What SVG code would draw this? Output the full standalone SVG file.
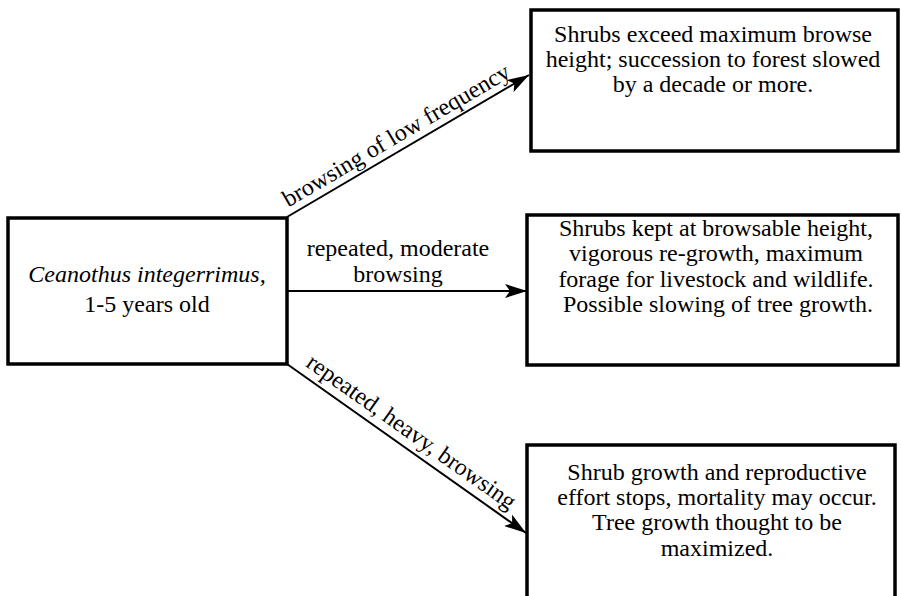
<svg xmlns="http://www.w3.org/2000/svg" width="901" height="596" viewBox="0 0 901 596">
<style>
.box{fill:#fff;stroke:#000;stroke-width:3.5}
.t{font-family:"Liberation Serif","Times New Roman",serif;font-size:24px;fill:#000;text-anchor:middle}
.i{font-style:italic}
.c{stroke:#000;stroke-width:2;fill:none}
</style>
<defs>
<marker id="ah" viewBox="0 0 22 14" refX="22" refY="7" markerWidth="22" markerHeight="14" markerUnits="userSpaceOnUse" orient="auto">
<path d="M0,0 L22,7 L0,14 L5,7 Z" fill="#000"/>
</marker>
</defs>
<rect width="901" height="596" fill="#fff"/>
<g id="connectors">
<line class="c" x1="287" y1="217" x2="529" y2="75" marker-end="url(#ah)"/>
<text class="t" transform="translate(400,142) rotate(-30.4)">browsing of low frequency</text>
<line class="c" x1="288" y1="291" x2="527" y2="291" marker-end="url(#ah)"/>
<text class="t" x="398" y="256">repeated, moderate</text>
<text class="t" x="398" y="282">browsing</text>
<line class="c" x1="287" y1="364" x2="526" y2="533" marker-end="url(#ah)"/>
<text class="t" transform="translate(407,438) rotate(35.3)">repeated, heavy, browsing</text>
</g>
<g id="start">
<rect class="box" x="8" y="218" width="279" height="146"/>
<text class="t i" x="147" y="282">Ceanothus integerrimus,</text>
<text class="t" x="147" y="312">1-5 years old</text>
</g>
<g id="low">
<rect class="box" x="531" y="10" width="367" height="141"/>
<text class="t" x="713" y="42">Shrubs exceed maximum browse</text>
<text class="t" x="713" y="67">height; succession to forest slowed</text>
<text class="t" x="713" y="92">by a decade or more.</text>
</g>
<g id="moderate">
<rect class="box" x="527" y="215" width="371" height="150"/>
<text class="t" x="716" y="236">Shrubs kept at browsable height,</text>
<text class="t" x="716" y="261">vigorous re-growth, maximum</text>
<text class="t" x="716" y="287">forage for livestock and wildlife.</text>
<text class="t" x="718" y="312">Possible slowing of tree growth.</text>
</g>
<g id="heavy">
<rect class="box" x="527" y="445" width="368" height="160"/>
<text class="t" x="717" y="480">Shrub growth and reproductive</text>
<text class="t" x="717" y="505">effort stops, mortality may occur.</text>
<text class="t" x="717" y="530">Tree growth thought to be</text>
<text class="t" x="717" y="556">maximized.</text>
</g>
</svg>
